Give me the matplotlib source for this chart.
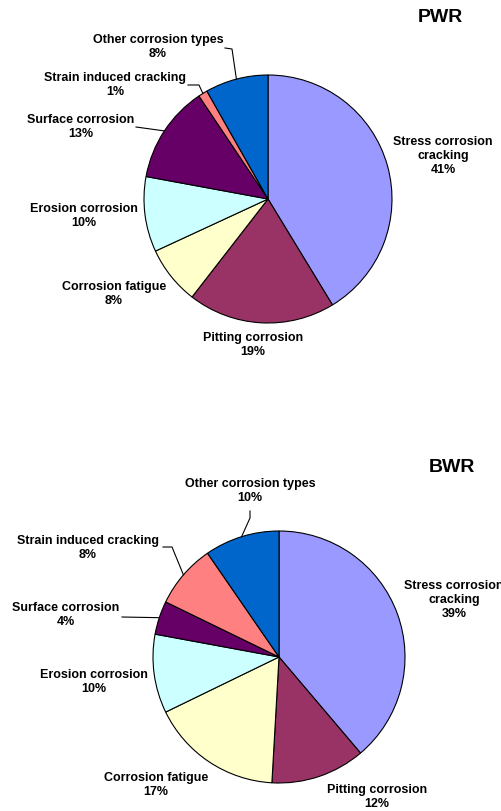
import numpy as np
import matplotlib.pyplot as plt

# corrosion types, in drawing order (clockwise from 12 o'clock)
categories = ['Stress corrosion\ncracking', 'Pitting corrosion', 'Corrosion fatigue',
              'Erosion corrosion', 'Surface corrosion', 'Strain induced cracking',
              'Other corrosion types']
pwr_values = [41.3, 19.2, 7.6, 9.8, 12.7, 1.2, 8.2]
bwr_values = [38.8, 12.1, 16.9, 10.1, 4.3, 8.2, 9.6]
colors = ['#9999FF', '#993366', '#FFFFCC', '#CCFFFF', '#660066', '#FF8080', '#0066CC']

W, H = 501, 812
fig = plt.figure(figsize=(W / 100, H / 100), dpi=100)
ax = fig.add_axes([0, 0, 1, 1])
FONT = 'Liberation Sans'


def draw(values, title, center, radius, label_pos, leaders, title_pos):
    cx, cy = center[0], H - center[1]
    wedges, _ = ax.pie(values, colors=colors, startangle=90, counterclock=False,
                       center=(cx, cy), radius=radius,
                       wedgeprops=dict(edgecolor='black', linewidth=0.8))
    for w, name, v, (lx, ly), lead in zip(wedges, categories, values, label_pos, leaders):
        ax.text(lx, H - ly, f'{name}\n{round(v)}%', ha='center', va='center',
                fontsize=9, fontweight='bold', family=FONT)
        if lead:
            mid = np.deg2rad((w.theta1 + w.theta2) / 2)
            ex, ey = cx + radius * np.cos(mid), cy + radius * np.sin(mid)
            xs = [p[0] for p in lead] + [ex]
            ys = [H - p[1] for p in lead] + [ey]
            ax.plot(xs, ys, color='black', lw=0.8)
    ax.text(title_pos[0], H - title_pos[1], title, ha='center', va='center',
            fontsize=14, fontweight='bold', family=FONT)


draw(pwr_values, 'PWR', (268, 200), 124,
     [(443, 156), (253, 345), (114, 294), (84, 216), (81, 127), (115, 85), (158, 47)],
     [None, None, None, None, [(136, 128)], [(188, 86), (199, 86)], [(225, 49), (232, 50)]],
     (440, 18))

draw(bwr_values, 'BWR', (279, 658), 126,
     [(454, 600), (377, 797), (156, 785), (94, 682), (66, 615), (88, 548), (250, 491)],
     [None, None, None, None, [(122, 618)], [(163, 548), (172, 548)], [(250, 512), (250, 519)]],
     (452, 468))

ax.set_xlim(0, W)
ax.set_ylim(0, H)
ax.axis('off')
fig.savefig('out.png', dpi=100)
